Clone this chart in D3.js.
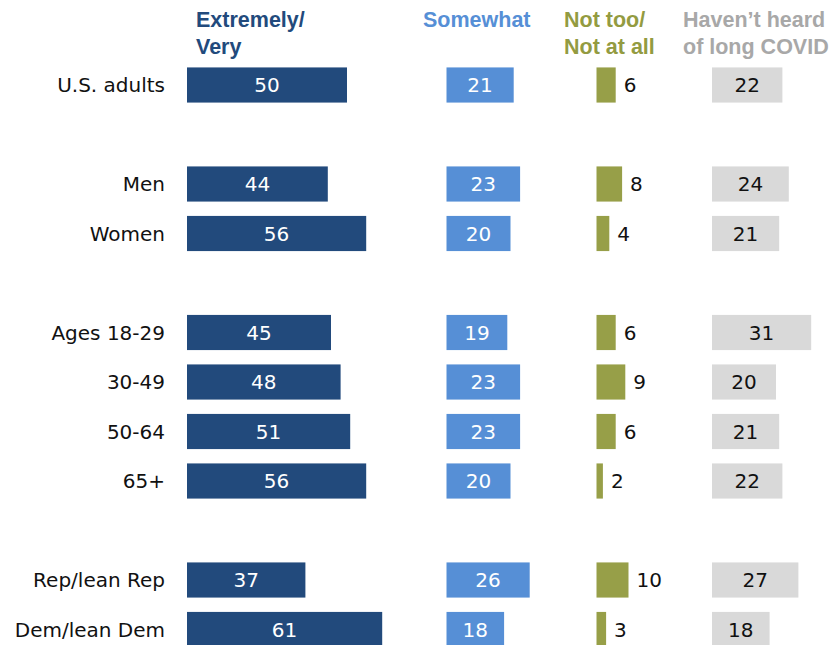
<!DOCTYPE html>
<html>
<head>
<meta charset="utf-8">
<script src="https://cdn.jsdelivr.net/npm/d3@7"></script>
<style>
  html, body { margin: 0; padding: 0; background: #fff; }
  svg { display: block; }
</style>
</head>
<body>
<svg id="chart" width="840" height="645"></svg>
<script>
// Row labels; null marks a spacer row between groups
const categories = ["U.S. adults", null, "Men", "Women", null, "Ages 18-29", "30-49", "50-64", "65+", null, "Rep/lean Rep", "Dem/lean Dem"];

// Share of adults in each response
const extremelyVery = [50, null, 44, 56, null, 45, 48, 51, 56, null, 37, 61];
const somewhat      = [21, null, 23, 20, null, 19, 23, 23, 20, null, 26, 18];
const notTooNotAll  = [6,  null, 8,  4,  null, 6,  9,  6,  2,  null, 10, 3];
const haventHeard   = [22, null, 24, 21, null, 31, 20, 21, 22, null, 27, 18];

// Column headers (one array entry per line)
const headers = [
  ["Extremely/", "Very"],
  ["Somewhat"],
  ["Not too/", "Not at all"],
  ["Haven\u2019t heard", "of long COVID"]
];

const series = [extremelyVery, somewhat, notTooNotAll, haventHeard];

const columns = [
  { x0: 187,   headerX: 196, fill: "#224a7c", head: "#224a7c", text: "#ffffff", label: "inside" },
  { x0: 446.5, headerX: 423, fill: "#568fd6", head: "#568fd6", text: "#ffffff", label: "inside" },
  { x0: 596.5, headerX: 564, fill: "#979f48", head: "#939b41", text: "#111111", label: "outside" },
  { x0: 712,   headerX: 683, fill: "#d9d9d9", head: "#a8a8a8", text: "#111111", label: "inside" }
];

const svg = d3.select("#chart");
const labelFont = "'DejaVu Sans', sans-serif";
const headFont = "'Liberation Sans', Arial, sans-serif";

const y = d3.scaleBand()
  .domain(d3.range(categories.length))
  .range([60.25, 654.25])
  .paddingInner(0.29)
  .paddingOuter(0.145);

const w = d3.scaleLinear().domain([0, 100]).range([0, 320]);

// Headers
headers.forEach((lines, c) => {
  const t = svg.append("text")
    .attr("x", columns[c].headerX)
    .attr("y", 27)
    .attr("font-family", headFont)
    .attr("font-weight", "bold")
    .attr("font-size", "21.5px")
    .attr("fill", columns[c].head);
  lines.forEach((line, i) => {
    t.append("tspan")
      .attr("x", columns[c].headerX)
      .attr("dy", i === 0 ? 0 : 27)
      .text(line);
  });
});

const rows = d3.range(categories.length).filter(i => categories[i] !== null);

// Category labels
svg.append("g")
  .selectAll("text")
  .data(rows)
  .join("text")
  .attr("x", 165)
  .attr("y", i => y(i) + y.bandwidth() / 2 + 7)
  .attr("text-anchor", "end")
  .attr("font-family", labelFont)
  .attr("font-size", "20px")
  .attr("fill", "#111")
  .text(i => categories[i]);

// Bars and value labels per column
series.forEach((vals, c) => {
  const col = columns[c];
  const g = svg.append("g");
  g.selectAll("rect")
    .data(rows)
    .join("rect")
    .attr("x", col.x0)
    .attr("y", i => y(i))
    .attr("width", i => w(vals[i]))
    .attr("height", y.bandwidth())
    .attr("fill", col.fill);

  g.selectAll("text")
    .data(rows)
    .join("text")
    .attr("x", i => col.label === "inside" ? col.x0 + w(vals[i]) / 2 : col.x0 + w(vals[i]) + 8)
    .attr("y", i => y(i) + y.bandwidth() / 2 + 7)
    .attr("text-anchor", col.label === "inside" ? "middle" : "start")
    .attr("font-family", labelFont)
    .attr("font-size", "20px")
    .attr("fill", col.text)
    .text(i => vals[i]);
});
</script>
</body>
</html>
